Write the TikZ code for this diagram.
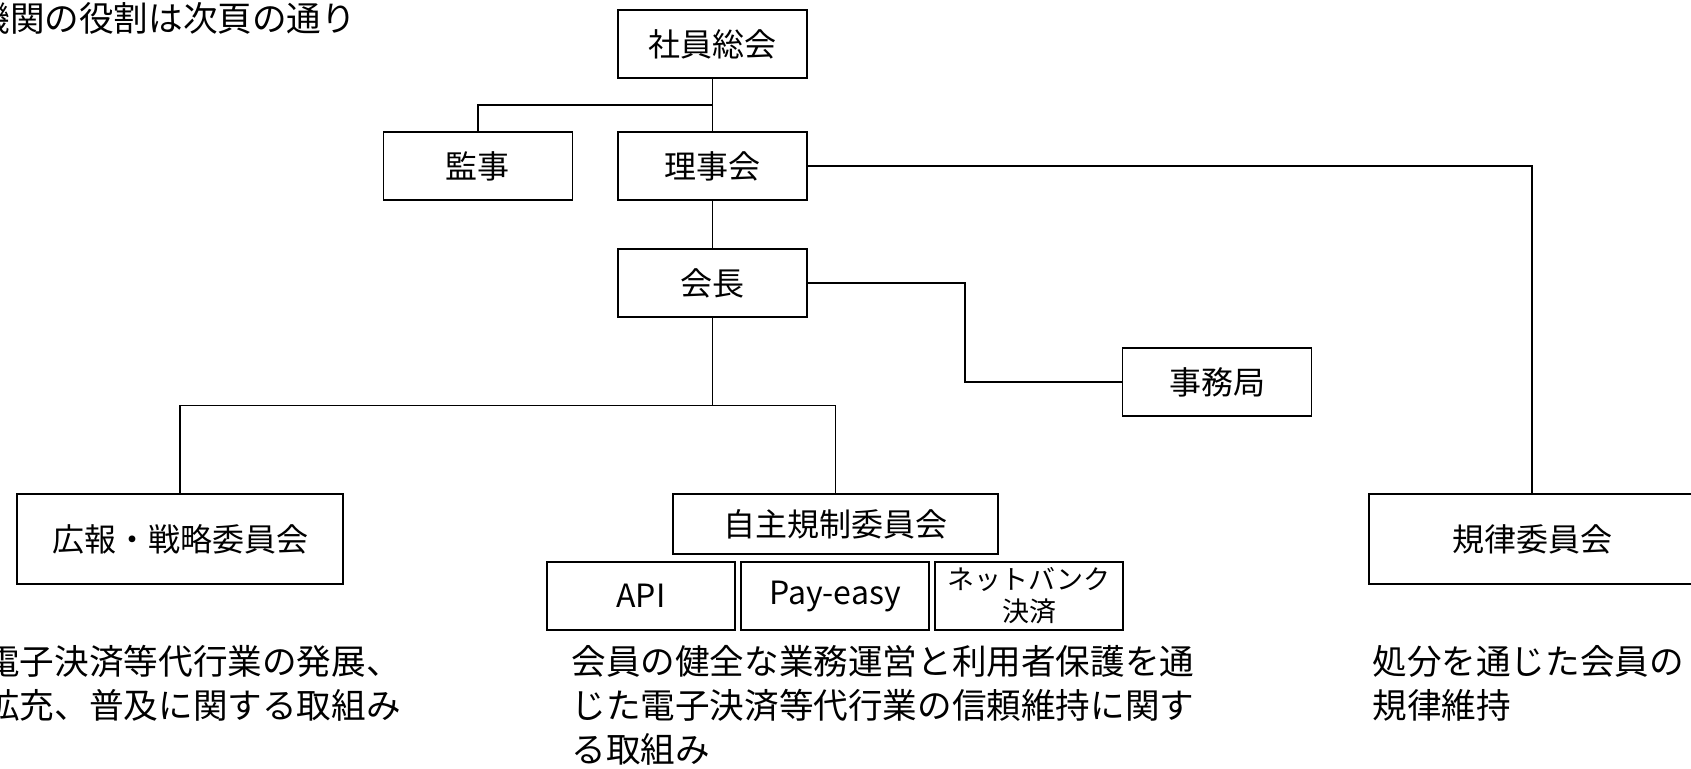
\documentclass[tikz,border=0pt]{standalone}
\usepackage{fontspec}
\setmainfont{Noto Sans CJK JP}
\usetikzlibrary{positioning}

\begin{document}
\begin{tikzpicture}[
  x=0.5pt, y=-0.5pt,
  line/.style={draw, line width=0.8pt},
  box/.style={rectangle, draw, line width=0.8pt, align=center, fill=white, inner sep=0pt,
              minimum width=94.5pt, minimum height=34pt, font=\fontsize{16}{20}\selectfont},
  widebox/.style={box, minimum width=163pt, minimum height=45pt},
  midbox/.style={box, minimum width=162.5pt, minimum height=30pt},
  subbox/.style={box, minimum width=94pt, minimum height=34pt},
  note/.style={anchor=base west, align=left, inner sep=0pt, font=\fontsize{17.3}{22}\selectfont}
]
\useasboundingbox (0,0) rectangle (1691,768);

% =======================================================
%                     MAIN COMPONENTS
% =======================================================
\node[note] (title) at (-25,31) {機関の役割は次頁の通り};

\node[box] (soukai) at (712.5,44) {社員総会};
\node[box] (riji) at (712.5,166) {理事会};
\node[box] (kanji) [left=22pt of riji] {監事};
\node[box] (kaicho) at (712.5,283) {会長};
\node[box] (jimu) at (1217,382) {事務局};

% committees
\node[widebox] (koho) at (180,539) {広報・戦略委員会};
\node[midbox] (jishu) at (835.5,524) {自主規制委員会};
\node[widebox] (kiritsu) at (1532,539) {規律委員会};

% working groups under the self-regulation committee
\node[subbox] (api) at (641,596) {API};
\node[subbox,right=2.2pt of api] (payeasy) {Pay-easy};
\node[subbox,right=2.2pt of payeasy,font=\fontsize{13.5}{16}\selectfont] (netbank) {ネットバンク\\決済};

% descriptions (base = last line)
\node[note] (kohotxt) at (-15,718) {電子決済等代行業の発展、\\拡充、普及に関する取組み};
\node[note] (jishutxt) at (571,762) {会員の健全な業務運営と利用者保護を通\\じた電子決済等代行業の信頼維持に関す\\る取組み};
\node[note] (kiritsutxt) at (1372,718) {処分を通じた会員の\\規律維持};

% =======================================================
%                     CONNECTIONS
% =======================================================
\coordinate (jkanji) at (712.5,105);
\coordinate (jjimu) at (965,382);
\coordinate (jcom) at (712.5,405.5);

% 社員総会 -> 理事会 / 監事
\draw[line] (soukai.south) -- (riji.north);
\draw[line] (kanji.north) |- (jkanji);

% 理事会 -> 会長, 規律委員会
\draw[line] (riji.south) -- (kaicho.north);
\draw[line] (riji.east) -| (kiritsu.north);

% 会長 -> 事務局
\draw[line] (kaicho.east) -| (jjimu) -- (jimu.west);

% 会長 -> committees
\draw[line] (kaicho.south) -- (jcom);
\draw[line] (koho.north) |- (jcom) -| (jishu.north);

\end{tikzpicture}
\end{document}
